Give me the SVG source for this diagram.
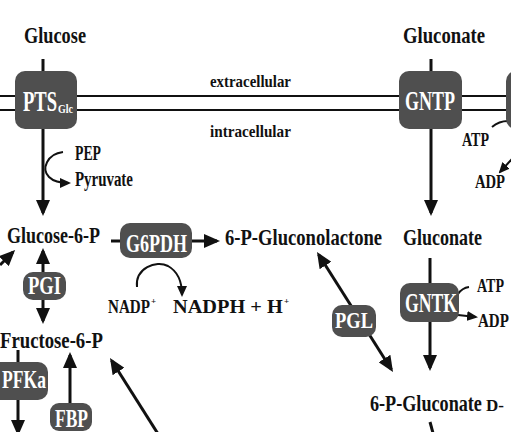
<svg xmlns="http://www.w3.org/2000/svg" width="511" height="432" viewBox="0 0 511 432">
<style>
.t{font-family:"Liberation Serif","Times New Roman",serif;font-weight:bold;fill:#111;}
.big{font-size:24px;}
.md{font-size:20px;}
.sm{font-size:19px;}
.xs{font-size:18px;}
.sup{font-size:9px;}
.mem-t{font-size:17px;}
.box{fill:#4f4f4f;}
.bt{font-family:"Liberation Serif","Times New Roman",serif;font-weight:bold;fill:#fff;}
.ln{stroke:#111;stroke-width:3;fill:none;}
.thin{stroke:#111;stroke-width:2;fill:none;}
.mem{stroke:#111;stroke-width:2;}
</style>
<defs>
<marker id="ah" markerUnits="userSpaceOnUse" markerWidth="16" markerHeight="14" viewBox="0 0 16 14" refX="13" refY="7" orient="auto-start-reverse"><path d="M0,0 L16,7 L0,14 z" fill="#111"/></marker>
<marker id="as" markerUnits="userSpaceOnUse" markerWidth="11" markerHeight="10" viewBox="0 0 11 10" refX="9" refY="5" orient="auto"><path d="M0,0 L11,5 L0,10 z" fill="#111"/></marker>
</defs>
<rect width="511" height="432" fill="#fff"/>

<g id="membrane">
<line class="mem" x1="0" y1="96" x2="511" y2="96"/>
<line class="mem" x1="0" y1="110" x2="511" y2="110"/>
<text class="t mem-t" transform="translate(210,87) scale(0.876,1)">extracellular</text>
<text class="t mem-t" transform="translate(210,137) scale(0.893,1)">intracellular</text>
</g>

<g id="connectors">
<line class="ln" x1="43" y1="59" x2="43" y2="213" marker-end="url(#ah)"/>
<path class="thin" d="M63,152 C47,154 41,169 49,177 C54,182 61,183 69,183" marker-end="url(#as)"/>
<line class="ln" x1="431" y1="59" x2="431" y2="213" marker-end="url(#ah)"/>
<path class="thin" d="M492,127 Q499,121 508,121"/>
<line class="thin" x1="512" y1="159" x2="500" y2="172" marker-end="url(#as)"/>
<line class="ln" x1="0" y1="265" x2="13" y2="252" marker-end="url(#ah)"/>
<line class="ln" x1="111" y1="241" x2="217" y2="241" marker-end="url(#ah)"/>
<path class="thin" d="M137,287 C135,268 156,260 168,266 C177,271 182,280 182,295" marker-end="url(#as)"/>
<line class="ln" x1="43" y1="251" x2="43" y2="321" marker-start="url(#ah)" marker-end="url(#ah)"/>
<line class="ln" x1="18" y1="350" x2="18" y2="433" marker-end="url(#ah)"/>
<line class="ln" x1="70" y1="404" x2="70" y2="355" marker-end="url(#ah)"/>
<line class="ln" x1="160" y1="437" x2="111.6" y2="360.5" marker-end="url(#ah)"/>
<line class="ln" x1="318.6" y1="254.5" x2="391.4" y2="369.5" marker-start="url(#ah)" marker-end="url(#ah)"/>
<line class="ln" x1="430" y1="258" x2="430" y2="368" marker-end="url(#ah)"/>
<path class="thin" d="M458,294 Q462,288 469,287"/>
<line class="thin" x1="458" y1="315" x2="476" y2="317" marker-end="url(#as)"/>
<line class="ln" x1="430" y1="422" x2="433" y2="433"/>
</g>

<g id="glucose"><text class="t big" transform="translate(24,43) scale(0.763,1)">Glucose</text></g>
<g id="gluconate-ext"><text class="t big" transform="translate(403,43) scale(0.779,1)">Gluconate</text></g>

<g id="pts">
<rect class="box" x="15" y="71" width="62" height="58" rx="10"/>
<text class="bt" transform="translate(23,111) scale(0.62,1)" style="font-size:30px">PTS</text>
<text class="bt" transform="translate(58,113) scale(0.83,1)" style="font-size:12px">Glc</text>
</g>
<g id="gntp">
<rect class="box" x="399" y="71" width="63" height="58" rx="10"/>
<text class="bt" transform="translate(405,110) scale(0.643,1)" style="font-size:28px">GNTP</text>
</g>
<g id="transporter-right"><rect class="box" x="506" y="71" width="63" height="58" rx="10"/></g>

<g id="pep">
<text class="t md" transform="translate(75,160) scale(0.688,1)">PEP</text>
<text class="t md" transform="translate(75,186) scale(0.746,1)">Pyruvate</text>
</g>
<g id="atp-adp-top">
<text class="t sm" transform="translate(462,146) scale(0.74,1)">ATP</text>
<text class="t sm" transform="translate(475,188) scale(0.77,1)">ADP</text>
</g>

<g id="glucose6p"><text class="t big" transform="translate(7,243) scale(0.75,1)">Glucose-6-P</text></g>
<g id="g6pdh">
<rect class="box" x="120" y="223" width="72" height="35" rx="10"/>
<text class="bt" transform="translate(126,252) scale(0.692,1)" style="font-size:26px">G6PDH</text>
</g>
<g id="gluconolactone"><text class="t big" transform="translate(225,245) scale(0.775,1)">6-P-Gluconolactone</text></g>
<g id="gluconate-int"><text class="t big" transform="translate(403,245) scale(0.75,1)">Gluconate</text></g>

<g id="nadp">
<text class="t xs" transform="translate(108,313) scale(0.84,1)">NADP</text>
<text class="t sup" x="151" y="304">+</text>
<text class="t" transform="translate(173,313) scale(1.07,1)" style="font-size:19px">NADPH + H</text>
<text class="t sup" x="284" y="304">+</text>
</g>

<g id="pgi">
<rect class="box" x="23" y="272" width="43" height="28" rx="10"/>
<text class="bt" transform="translate(28,294) scale(0.742,1)" style="font-size:25px">PGI</text>
</g>
<g id="pgl">
<rect class="box" x="332" y="305" width="44" height="32" rx="10"/>
<text class="bt" transform="translate(335,328) scale(0.77,1)" style="font-size:24px">PGL</text>
</g>
<g id="gntk">
<rect class="box" x="400" y="283" width="59" height="39" rx="10"/>
<text class="bt" transform="translate(405,312) scale(0.654,1)" style="font-size:27px">GNTK</text>
</g>
<g id="atp-adp-gntk">
<text class="t sm" transform="translate(477,292) scale(0.74,1)">ATP</text>
<text class="t sm" transform="translate(478,327) scale(0.79,1)">ADP</text>
</g>

<g id="fructose6p"><text class="t big" transform="translate(0,348) scale(0.78,1)">Fructose-6-P</text></g>
<g id="pfka">
<rect class="box" x="-10" y="362" width="58" height="38" rx="10"/>
<text class="bt" transform="translate(2,388) scale(0.677,1)" style="font-size:26px">PFKa</text>
</g>
<g id="fbp">
<rect class="box" x="50" y="403" width="42" height="28" rx="9"/>
<text class="bt" transform="translate(55,427) scale(0.699,1)" style="font-size:25px">FBP</text>
</g>

<g id="gluconate6p">
<text class="t big" transform="translate(370,411) scale(0.757,1)">6-P-Gluconate</text>
<text class="t" x="486" y="411" style="font-size:17px">D-</text>
</g>
</svg>
